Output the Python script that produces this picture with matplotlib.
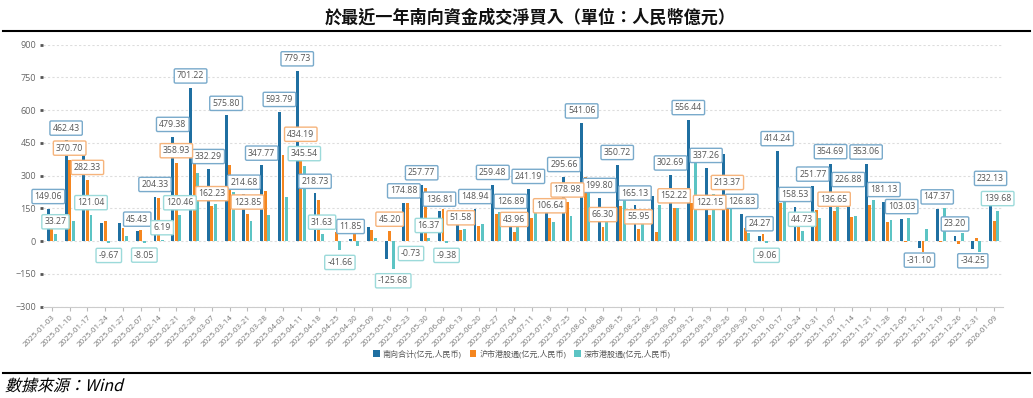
import matplotlib
matplotlib.use("Agg")
import matplotlib.pyplot as plt
from matplotlib.patches import Patch, PathPatch
from matplotlib.lines import Line2D
from matplotlib.textpath import TextPath
from matplotlib.font_manager import FontProperties
from matplotlib.transforms import Affine2D
import numpy as np

plt.rcParams['font.family'] = ['Open Sans', 'Noto Sans CJK SC', 'DejaVu Sans']

dates = ["2025-01-03", "2025-01-10", "2025-01-17", "2025-01-24", "2025-01-27", "2025-02-07",
         "2025-02-14", "2025-02-21", "2025-02-28", "2025-03-07", "2025-03-14", "2025-03-21",
         "2025-03-28", "2025-04-03", "2025-04-11", "2025-04-18", "2025-04-25", "2025-04-30",
         "2025-05-09", "2025-05-16", "2025-05-23", "2025-05-30", "2025-06-06", "2025-06-13",
         "2025-06-20", "2025-06-27", "2025-07-04", "2025-07-11", "2025-07-18", "2025-07-25",
         "2025-08-01", "2025-08-08", "2025-08-15", "2025-08-22", "2025-08-29", "2025-09-05",
         "2025-09-12", "2025-09-19", "2025-09-26", "2025-09-30", "2025-10-10", "2025-10-17",
         "2025-10-24", "2025-10-31", "2025-11-07", "2025-11-14", "2025-11-21", "2025-11-28",
         "2025-12-05", "2025-12-12", "2025-12-19", "2025-12-26", "2025-12-31", "2026-01-09"]

# 南向合计
south_total = [149.06, 462.43, 403.37, 85.13, 84.50, 45.43, 204.33, 479.38, 701.22, 332.29,
               575.80, 214.68, 347.77, 593.79, 779.73, 218.73, -1.16, 11.85, 67.00, -80.48,
               174.88, 257.77, 136.81, 109.60, 148.94, 259.48, 126.89, 241.19, 195.60, 295.66,
               541.06, 199.80, 350.72, 165.13, 205.00, 302.69, 556.44, 337.26, 401.37, 126.83,
               24.27, 414.24, 158.53, 251.77, 354.69, 226.88, 353.06, 181.13, 103.03, -31.10,
               147.37, 23.20, -34.25, 232.13]
# 沪市港股通
sh_connect = [115.79, 370.70, 282.33, 94.80, 60.20, 53.48, 198.14, 358.93, 388.00, 162.23,
              350.00, 123.85, 229.50, 393.50, 434.19, 187.10, 40.50, 33.50, 53.00, 45.20,
              175.61, 241.40, 146.19, 51.58, 70.20, 124.50, 43.96, 108.00, 106.64, 178.98,
              292.00, 66.30, 160.00, 55.95, 40.00, 152.22, 176.50, 122.15, 213.37, 61.00,
              33.33, 176.00, 113.80, 145.00, 136.65, 112.00, 164.00, 86.00, -3.00, -49.00,
              -2.00, -15.00, 15.00, 92.45]
# 深市港股通
sz_connect = [33.27, 91.73, 121.04, -9.67, 24.30, -8.05, 6.19, 120.46, 313.22, 170.06,
              225.80, 90.83, 118.27, 200.29, 345.54, 31.63, -41.66, -21.65, 14.00, -125.68,
              -0.73, 16.37, -9.38, 58.02, 78.74, 134.98, 82.93, 133.19, 89.00, 116.68,
              249.06, 133.50, 190.72, 109.18, 165.00, 150.47, 379.94, 215.11, 188.00, 38.00,
              -9.06, 238.24, 44.73, 106.77, 218.04, 114.88, 189.06, 95.13, 106.03, 54.00,
              150.00, 38.00, -49.00, 139.68]

# which bars carry a value label
total_labels = [0, 1, 5, 6, 7, 8, 9, 10, 11, 12, 13, 14, 15, 17, 20, 21, 22, 24, 25, 26, 27,
                29, 30, 31, 32, 33, 35, 36, 37, 39, 40, 41, 42, 43, 44, 45, 46, 47, 48, 49,
                50, 51, 52, 53]
sh_labels = [1, 2, 7, 9, 11, 14, 19, 23, 26, 28, 29, 31, 33, 35, 37, 38, 44]
sz_labels = [0, 2, 3, 5, 6, 7, 14, 15, 16, 19, 20, 21, 22, 40, 42, 53]

series_names = ["南向合计(亿元,人民币)", "沪市港股通(亿元,人民币)", "深市港股通(亿元,人民币)"]
colors = ["#1f6fa1", "#f5861f", "#5cc4c4"]
border_colors = ["#79aacb", "#f6b47c", "#9cdada"]

W, H = 1033, 398
fig = plt.figure(figsize=(W / 100, H / 100), dpi=100)
ax = fig.add_axes([43 / W, 1 - 306.7 / H, 960 / W, 262 / H])

x = np.arange(len(dates))
bw = 0.16
offsets = [-0.2, 0.0, 0.2]
all_series = [south_total, sh_connect, sz_connect]
all_labels = [total_labels, sh_labels, sz_labels]

for vals, off, c in zip(all_series, offsets, colors):
    ax.bar(x + off, vals, width=bw, color=c, zorder=2)

for vals, idxs, off, ec in zip(all_series, all_labels, offsets, border_colors):
    for i in idxs:
        v = vals[i]
        ax.annotate(f"{v:.2f}", xy=(i + off, v), xytext=(0, 5.5 if v >= 0 else -5.5),
                    textcoords="offset points", ha="center",
                    va="bottom" if v >= 0 else "top", fontsize=6.3, color="#555555",
                    bbox=dict(boxstyle="round,pad=0.3,rounding_size=0.15", fc="white",
                              ec=ec, lw=1.0), zorder=5)

for s in ["top", "right", "left"]:
    ax.spines[s].set_visible(False)
ax.spines["bottom"].set_color("#cccccc")

ax.set_xlim(-0.5, len(dates) - 0.5)
ax.set_ylim(-300, 900)
ax.set_yticks(np.arange(-300, 901, 150))
ax.set_xticks(x)
ax.set_xticklabels(dates, rotation=45, ha="right", rotation_mode="anchor",
                   fontsize=5.8, color="#777777")
ax.tick_params(axis="y", length=2, width=2, color="#555555", pad=3,
               labelsize=6.5, labelcolor="#666666")
ax.tick_params(axis="x", length=3, width=0.8, color="#bbbbbb", pad=2)
ax.yaxis.grid(True, linestyle=(0, (2, 2)), color="#dddddd", lw=0.8)
ax.set_axisbelow(True)

handles = [Patch(facecolor=c, label=n) for c, n in zip(colors, series_names)]
fig.legend(handles=handles, loc="center", bbox_to_anchor=(522 / W, 1 - 354 / H), ncol=3,
           frameon=False, fontsize=5.8, handlelength=0.8, handleheight=0.8,
           handletextpad=0.4, columnspacing=1.0, labelcolor="#555555")

fig.text(530 / W, 1 - 18 / H, "於最近一年南向資金成交淨買入（單位：人民幣億元）", ha="center",
         va="center", fontsize=12.3, fontweight="bold",
         family=["Noto Sans CJK TC", "DejaVu Sans"], color="#111111")
fig.add_artist(Line2D([3 / W, 1030 / W], [1 - 31 / H] * 2, color="black", lw=1.5))
fig.add_artist(Line2D([3 / W, 1030 / W], [1 - 372.5 / H] * 2, color="black", lw=1.5))

# source note, slanted like the original
fp = FontProperties(family="Noto Sans CJK TC")
tp = TextPath((0, 0), "數據來源：Wind", size=11.5, prop=fp)
tr = Affine2D().skew_deg(14, 0).scale(1 / 72).translate(5 / 100, (H - 391) / 100) + fig.dpi_scale_trans
fig.add_artist(PathPatch(tp, transform=tr, fc="black", ec="none"))

fig.savefig("out.png", dpi=100)
